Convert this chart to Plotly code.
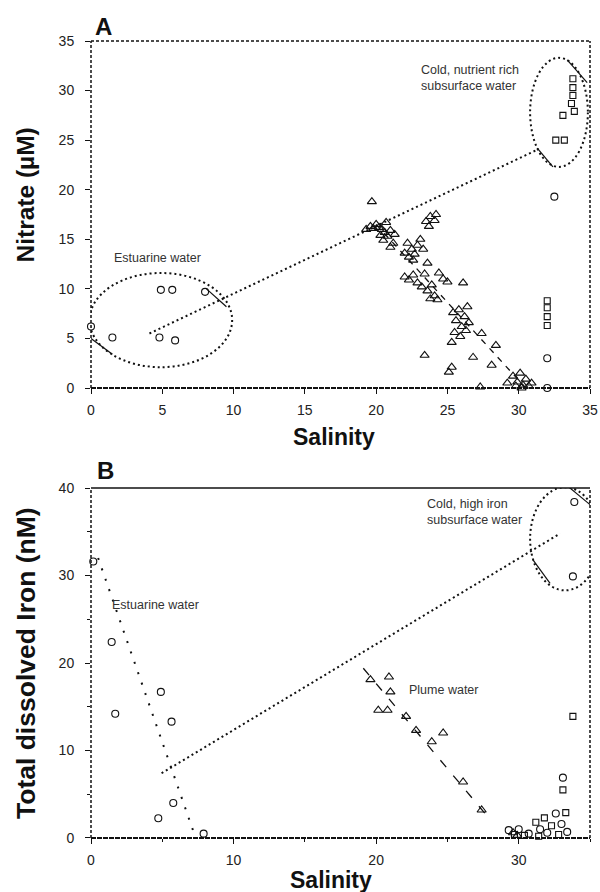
import plotly.graph_objects as go

# ---------------- Panel A data (Salinity vs Nitrate) ----------------
a_est_sal = [0.0, 1.5, 4.8, 4.9, 5.7, 5.9, 8.0, 32.5, 32.0, 32.0]
a_est_no3 = [6.2, 5.1, 5.1, 9.9, 9.9, 4.8, 9.7, 19.3, 3.0, 0.0]

a_plume_sal = [19.7,
               19.3, 19.6, 19.8, 20.0, 20.2, 20.4, 20.6, 20.3, 20.8, 21.0, 20.5, 21.2, 21.0, 20.7, 21.3,
               22.0, 22.3, 22.5, 22.7, 22.9, 23.1, 22.6, 22.2, 23.3,
               23.5, 23.8, 24.1, 23.7, 24.2, 23.6,
               22.0, 22.3, 22.6, 22.9, 23.2, 23.4, 23.6, 23.9, 24.1, 24.4, 24.7, 24.3, 23.8, 25.0,
               26.1,
               25.4, 25.6, 25.8, 26.0, 26.2, 26.4, 25.5, 25.9, 26.3, 25.3, 26.5,
               27.4, 28.4, 23.4, 26.8, 28.1, 25.3, 25.1, 27.3, 29.2,
               29.6, 29.9, 30.1, 30.3, 30.5, 30.7, 30.2, 30.9, 29.8]
a_plume_no3 = [18.8,
               16.0, 16.3, 16.1, 16.5, 16.2, 16.0, 15.7, 15.4, 15.3, 15.9, 14.9, 14.6, 14.2, 16.7, 15.5,
               13.6, 13.2, 14.0, 13.5, 14.4, 15.0, 12.9, 14.6, 14.0,
               16.8, 17.3, 16.9, 16.3, 17.5, 12.6,
               11.2, 10.9, 11.4, 10.6, 10.2, 11.5, 9.8, 10.4, 9.3, 11.6, 11.0, 8.9, 9.0, 10.7,
               10.6,
               7.6, 6.8, 7.9, 6.2, 7.2, 8.2, 5.6, 5.2, 5.8, 4.6, 6.6,
               5.5, 4.3, 3.3, 3.1, 2.3, 2.1, 1.6, 0.1, 0.5,
               1.2, 0.6, 1.5, 0.3, 0.9, 0.2, 0.0, 0.5, 0.2]

a_sub_sal = [32.6, 33.2, 33.1, 33.9, 33.7, 33.8, 33.8, 33.8, 32.0, 32.0, 32.0, 32.0]
a_sub_no3 = [25.0, 25.0, 27.5, 27.9, 28.7, 29.5, 30.3, 31.2, 6.3, 7.2, 8.1, 8.8]

# mixing / regression lines (endpoints)
a_mix_sal = [4.1, 31.4]
a_mix_no3 = [5.5, 24.1]
a_plume_line_sal = [20.0, 30.5]
a_plume_line_no3 = [16.5, 0.0]

# ---------------- Panel B data (Salinity vs total dissolved iron) ----------------
b_est_sal = [0.16, 1.45, 1.7, 4.9, 5.65, 5.77, 4.72, 7.9,
             33.9, 33.8, 33.1,
             29.3, 30.0, 30.7, 31.5, 32.0, 32.6, 33.0, 33.4]
b_est_fe = [31.6, 22.4, 14.2, 16.7, 13.3, 4.0, 2.25, 0.5,
            38.4, 29.9, 6.9,
            0.9, 1.0, 0.5, 1.0, 0.6, 2.8, 1.6, 0.7]

b_sub_sal = [33.8, 33.1, 29.7, 30.4, 31.2, 31.4, 31.8, 32.3, 32.8, 33.3]
b_sub_fe = [13.9, 5.5, 0.4, 0.3, 1.8, 0.2, 2.3, 1.4, 0.4, 2.9]

b_plume_sal = [19.6, 20.9, 21.0, 20.15, 20.8, 22.1, 22.8, 23.9, 24.7, 26.1, 27.4, 29.6, 29.9]
b_plume_fe = [18.1, 18.4, 16.7, 14.6, 14.6, 13.9, 12.3, 11.0, 12.0, 6.4, 3.2, 0.6, 0.3]

b_est_line_sal = [0.5, 7.3]
b_est_line_fe = [32.0, 0.2]
b_mix_sal = [4.95, 32.9]
b_mix_fe = [7.4, 34.8]
b_plume_line_sal = [19.1, 28.0]
b_plume_line_fe = [19.4, 2.1]

# ellipses (x0, x1, y0, y1) per panel
a_ellipses = [(-0.1, 9.9, 2.1, 11.6), (30.8, 34.85, 22.3, 33.3)]
b_ellipses = [(30.8, 35.7, 28.3, 40.1)]
# short solid strokes on the ellipses (x0, y0, x1, y1)
a_strokes = [(0.0, 5.0, 1.5, 3.4), (8.1, 10.0, 9.5, 8.2), (33.4, 33.1, 34.8, 30.8), (31.3, 24.2, 32.4, 22.3)]
b_strokes = [(33.6, 40.0, 35.0, 38.1), (31.0, 31.8, 32.2, 29.1)]

x_ticks_a = [0, 5, 10, 15, 20, 25, 30, 35]
y_ticks_a = [0, 5, 10, 15, 20, 25, 30, 35]
x_ticks_b = [0, 10, 20, 30]
y_ticks_b = [0, 10, 20, 30, 40]

INK = "#111111"
FONT = "Liberation Sans, Arial, sans-serif"

fig = go.Figure()


def markers(x, y, symbol, size, xa, ya):
    fig.add_trace(go.Scatter(
        x=x, y=y, mode="markers", xaxis=xa, yaxis=ya, cliponaxis=False,
        marker=dict(symbol=symbol, size=size, color=INK,
                    line=dict(color=INK, width=1.1)),
        showlegend=False, hoverinfo="x+y"))


def line(x, y, dash, width, xa, ya):
    fig.add_trace(go.Scatter(
        x=x, y=y, mode="lines", xaxis=xa, yaxis=ya,
        line=dict(color=INK, width=width, dash=dash),
        showlegend=False, hoverinfo="skip"))


# Panel A
line(a_mix_sal, a_mix_no3, "2px,3px", 2, "x", "y")
line(a_plume_line_sal, a_plume_line_no3, "6px,6px", 1.3, "x", "y")
markers(a_est_sal, a_est_no3, "circle-open", 7, "x", "y")
markers(a_plume_sal, a_plume_no3, "triangle-up-open", 8, "x", "y")
markers(a_sub_sal, a_sub_no3, "square-open", 6, "x", "y")

# Panel B
line(b_est_line_sal, b_est_line_fe, "2px,9px", 2, "x2", "y2")
line(b_mix_sal, b_mix_fe, "2px,3px", 2, "x2", "y2")
line(b_plume_line_sal, b_plume_line_fe, "9px,11px", 1.3, "x2", "y2")
markers(b_est_sal, b_est_fe, "circle-open", 7, "x2", "y2")
markers(b_sub_sal, b_sub_fe, "square-open", 6, "x2", "y2")
markers(b_plume_sal, b_plume_fe, "triangle-up-open", 8, "x2", "y2")

shapes = []
for (x0, x1, y0, y1) in a_ellipses:
    shapes.append(dict(type="circle", xref="x", yref="y", x0=x0, x1=x1, y0=y0, y1=y1,
                       line=dict(color=INK, width=2, dash="2px,3px")))
for (x0, x1, y0, y1) in b_ellipses:
    shapes.append(dict(type="circle", xref="x2", yref="y2", x0=x0, x1=x1, y0=y0, y1=y1,
                       line=dict(color=INK, width=2, dash="2px,3px")))
for (x0, y0, x1, y1) in a_strokes:
    shapes.append(dict(type="line", xref="x", yref="y", x0=x0, y0=y0, x1=x1, y1=y1,
                       line=dict(color=INK, width=1.2)))
for (x0, y0, x1, y1) in b_strokes:
    shapes.append(dict(type="line", xref="x2", yref="y2", x0=x0, y0=y0, x1=x1, y1=y1,
                       line=dict(color=INK, width=1.2)))

# dashed frames
frame_dash = "3px,2px"
for xr, yr, top_dash, bot_dash in [("x domain", "y domain", frame_dash, "5px,1px"),
                                   ("x2 domain", "y2 domain", "solid", "5px,1px")]:
    shapes.append(dict(type="line", xref=xr, yref=yr, x0=0, x1=1, y0=1, y1=1,
                       line=dict(color=INK, width=1.6, dash=top_dash)))
    shapes.append(dict(type="line", xref=xr, yref=yr, x0=0, x1=1, y0=0, y1=0,
                       line=dict(color=INK, width=1.8, dash=bot_dash)))
    shapes.append(dict(type="line", xref=xr, yref=yr, x0=0, x1=0, y0=0, y1=1,
                       line=dict(color=INK, width=1.5, dash=frame_dash)))
    shapes.append(dict(type="line", xref=xr, yref=yr, x0=1, x1=1, y0=0, y1=1,
                       line=dict(color=INK, width=1.5, dash=frame_dash)))

ann_font = dict(family=FONT, size=12.5, color="#333333")
title_font = dict(family=FONT, size=23, color=INK)
annotations = [
    dict(text="<b>A</b>", xref="x domain", yref="y domain", x=0, y=1, xanchor="left",
         yanchor="middle", xshift=2, yshift=15, showarrow=False, font=dict(family=FONT, size=24, color=INK)),
    dict(text="<b>B</b>", xref="x2 domain", yref="y2 domain", x=0, y=1, xanchor="left",
         yanchor="middle", xshift=4, yshift=18, showarrow=False, font=dict(family=FONT, size=24, color=INK)),
    dict(text="<b>Salinity</b>", xref="x domain", yref="y domain", x=0.5, y=0, xanchor="center",
         yanchor="middle", xshift=-7, yshift=-49, showarrow=False, font=title_font),
    dict(text="<b>Salinity</b>", xref="x2 domain", yref="y2 domain", x=0.5, y=0, xanchor="center",
         yanchor="middle", xshift=-10, yshift=-42, showarrow=False, font=title_font),
    dict(text="<b>Nitrate (\u00b5M)</b>", xref="paper", yref="y domain", x=0, y=0.5, xanchor="center",
         yanchor="middle", xshift=-65, yshift=19, textangle=-90, showarrow=False,
         font=dict(family=FONT, size=24.5, color=INK)),
    dict(text="<b>Total dissolved Iron (nM)</b>", xref="paper", yref="y2 domain", x=0, y=0.5,
         xanchor="center", yanchor="middle", xshift=-65, yshift=0, textangle=-90, showarrow=False,
         font=dict(family=FONT, size=26.5, color=INK)),
    dict(text="Estuarine water", xref="x", yref="y", x=1.5, y=13.1, xanchor="left", yanchor="middle",
         showarrow=False, font=ann_font),
    dict(text="Cold, nutrient rich<br>subsurface water", xref="x", yref="y", x=23.0, y=31.3,
         xanchor="left", yanchor="middle", align="left", showarrow=False, font=ann_font),
    dict(text="Estuarine water", xref="x2", yref="y2", x=1.3, y=26.6, xanchor="left", yanchor="middle",
         showarrow=False, font=ann_font),
    dict(text="Plume water", xref="x2", yref="y2", x=22.15, y=16.9, xanchor="left", yanchor="middle",
         showarrow=False, font=ann_font),
    dict(text="Cold, high iron<br>subsurface water", xref="x2", yref="y2", x=23.4, y=37.3,
         xanchor="left", yanchor="middle", align="left", showarrow=False, font=ann_font),
]

tick_font = dict(family=FONT, size=14, color="#222222")
axis_common = dict(showgrid=False, zeroline=False, showline=False, ticks="outside", ticklen=5,
                   tickwidth=1.2, tickcolor=INK, tickfont=tick_font, automargin=False)

fig.update_layout(
    width=600, height=892,
    margin=dict(l=91, r=10, t=41, b=54),
    paper_bgcolor="white", plot_bgcolor="white",
    showlegend=False,
    xaxis=dict(domain=[0, 1], anchor="y", range=[0, 35], tickvals=x_ticks_a,
               ticklabelstandoff=4, **axis_common),
    yaxis=dict(domain=[0.5646, 1], anchor="x", range=[0, 35], tickvals=y_ticks_a,
               ticklabelstandoff=8, **axis_common),
    xaxis2=dict(domain=[0, 1], anchor="y2", range=[0, 35], tickvals=x_ticks_b, ticklabelstandoff=4,
                minor=dict(dtick=5, ticks="outside", ticklen=3, tickcolor=INK), **axis_common),
    yaxis2=dict(domain=[0, 0.4391], anchor="x2", range=[0, 40], tickvals=y_ticks_b, ticklabelstandoff=8,
                minor=dict(dtick=5, ticks="outside", ticklen=3, tickcolor=INK), **axis_common),
    shapes=shapes,
    annotations=annotations,
)

fig.write_html("out.html")
